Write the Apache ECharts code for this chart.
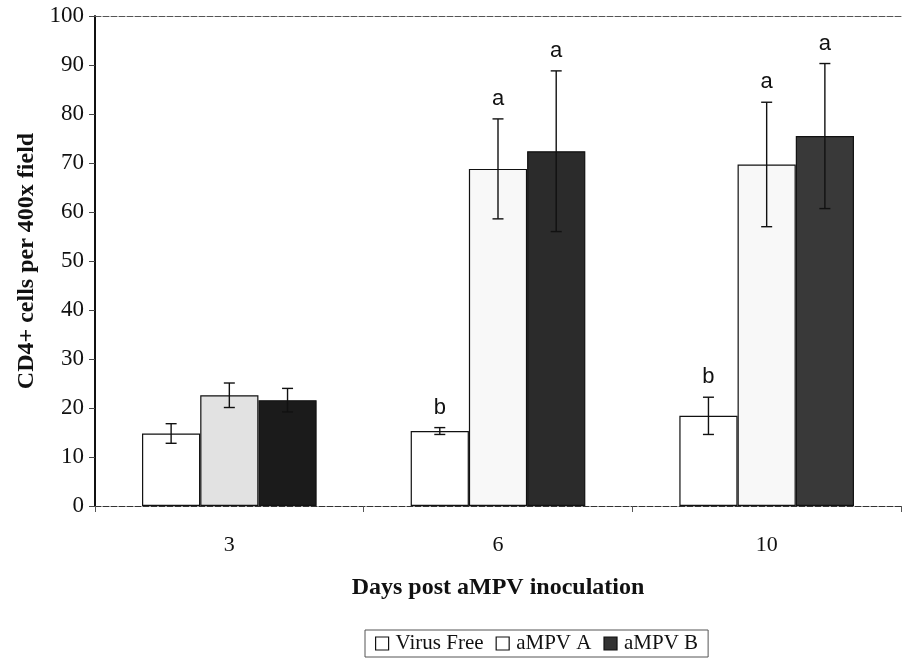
<!DOCTYPE html>
<html>
<head>
<meta charset="utf-8">
<script src="https://cdn.jsdelivr.net/npm/echarts@6/dist/echarts.min.js"></script>
<style>
  html, body { margin: 0; padding: 0; background: #fff; }
  #cd4_chart { width: 907px; height: 659px; }
</style>
</head>
<body>
<div id="cd4_chart"></div>
<script>
// days post inoculation
var days = ['3', '6', '10'];
var seriesNames = ['Virus Free', 'aMPV A', 'aMPV B'];

// means and standard errors
var virusFree = [14.8, 15.3, 18.4];
var virusFreeErr = [2.0, 0.7, 3.8];
var ampvA = [22.6, 68.8, 69.7];
var ampvAErr = [2.5, 10.2, 12.7];
var ampvB = [21.6, 72.4, 75.5];
var ampvBErr = [2.4, 16.4, 14.8];

// significance letters above the error bars
var virusFreeLetters = ['', 'b', 'b'];
var ampvALetters = ['', 'a', 'a'];
var ampvBLetters = ['', 'a', 'a'];

var yTicks = [0, 10, 20, 30, 40, 50, 60, 70, 80, 90, 100];

var serif = '"Liberation Serif", "Times New Roman", serif';
var sans = '"Liberation Sans", Arial, sans-serif';
var categoryGap = 0.35;

function errorSeries(idx, means, errs, letters) {
    var data = means.map(function (v, i) {
        return [i, v, errs[i]];
    });
    return {
        type: 'custom',
        name: seriesNames[idx] + ' err',
        z: 10,
        silent: true,
        data: data,
        renderItem: function (params, api) {
            var i = api.value(0);
            var mean = api.value(1);
            var err = api.value(2);
            var band = api.size([1, 0])[0];
            var barW = band * (1 - categoryGap) / 3;
            var x = api.coord([i, 0])[0] + (idx - 1) * barW;
            var yTop = api.coord([i, mean + err])[1];
            var yBot = api.coord([i, mean - err])[1];
            var cap = 5.5;
            var style = {stroke: '#111', lineWidth: 1.4};
            var children = [
                {type: 'line', shape: {x1: x, y1: yTop, x2: x, y2: yBot}, style: style},
                {type: 'line', shape: {x1: x - cap, y1: yTop, x2: x + cap, y2: yTop}, style: style},
                {type: 'line', shape: {x1: x - cap, y1: yBot, x2: x + cap, y2: yBot}, style: style}
            ];
            if (letters[i]) {
                children.push({
                    type: 'text',
                    style: {
                        text: letters[i],
                        x: x,
                        y: yTop - 9,
                        align: 'center',
                        verticalAlign: 'bottom',
                        fill: '#111',
                        font: '22px ' + sans
                    }
                });
            }
            return {type: 'group', children: children};
        }
    };
}

var shadesA = ['#e2e2e2', '#f8f8f8', '#f8f8f8'];
var shadesB = ['#1b1b1b', '#2b2b2b', '#393939'];

var option = {
    backgroundColor: '#fff',
    animation: false,
    grid: {
        left: 95,
        right: 6,
        top: 16,
        bottom: 153
    },
    legend: {
        bottom: 2,
        left: 365,
        icon: 'rect',
        itemWidth: 13,
        itemHeight: 13,
        itemGap: 12,
        padding: [3, 10, 3, 10],
        borderColor: '#555',
        borderWidth: 1,
        borderRadius: 0,
        textStyle: {fontFamily: serif, fontSize: 21, color: '#111', padding: [0, 0, 0, 2]},
        data: [
            {name: 'Virus Free', itemStyle: {color: '#fff', borderColor: '#111', borderWidth: 1.2}},
            {name: 'aMPV A', itemStyle: {color: '#fff', borderColor: '#111', borderWidth: 1.2}},
            {name: 'aMPV B', itemStyle: {color: '#333', borderColor: '#111', borderWidth: 1.2}}
        ]
    },
    xAxis: [
        {
            type: 'category',
            data: days,
            name: 'Days post aMPV inoculation',
            nameLocation: 'middle',
            nameGap: 70,
            nameTextStyle: {fontFamily: serif, fontSize: 24, fontWeight: 'bold', color: '#111'},
            axisLine: {lineStyle: {color: '#333', width: 1.2, type: [6, 2]}},
            axisTick: {show: true, length: 6, lineStyle: {color: '#555'}},
            axisLabel: {fontFamily: serif, fontSize: 22, color: '#111', margin: 28}
        },
        {
            type: 'category',
            data: days,
            position: 'top',
            axisLine: {show: true, onZero: false, lineStyle: {color: '#555', width: 1, type: [6, 2]}},
            axisTick: {show: false},
            axisLabel: {show: false}
        }
    ],
    yAxis: {
        type: 'value',
        min: yTicks[0],
        max: yTicks[yTicks.length - 1],
        interval: 10,
        name: 'CD4+ cells per 400x field',
        nameLocation: 'middle',
        nameGap: 52,
        nameTextStyle: {fontFamily: serif, fontSize: 24, fontWeight: 'bold', color: '#111'},
        axisLine: {show: true, lineStyle: {color: '#111', width: 2}},
        axisTick: {show: true, length: 6, lineStyle: {color: '#444'}},
        axisLabel: {fontFamily: serif, fontSize: 23, color: '#111', margin: 11},
        splitLine: {show: false}
    },
    series: [
        {
            name: 'Virus Free',
            type: 'bar',
            barGap: '0%',
            barCategoryGap: (categoryGap * 100) + '%',
            data: virusFree,
            itemStyle: {color: '#fff', borderColor: '#111', borderWidth: 1.2}
        },
        {
            name: 'aMPV A',
            type: 'bar',
            data: ampvA,
            itemStyle: {
                color: function (p) { return shadesA[p.dataIndex]; },
                borderColor: '#111',
                borderWidth: 1.2
            }
        },
        {
            name: 'aMPV B',
            type: 'bar',
            data: ampvB,
            itemStyle: {
                color: function (p) { return shadesB[p.dataIndex]; },
                borderColor: '#111',
                borderWidth: 1.2
            }
        },
        errorSeries(0, virusFree, virusFreeErr, virusFreeLetters),
        errorSeries(1, ampvA, ampvAErr, ampvALetters),
        errorSeries(2, ampvB, ampvBErr, ampvBLetters)
    ]
};

var chart = echarts.init(document.getElementById('cd4_chart'));
chart.setOption(option);
</script>
</body>
</html>
